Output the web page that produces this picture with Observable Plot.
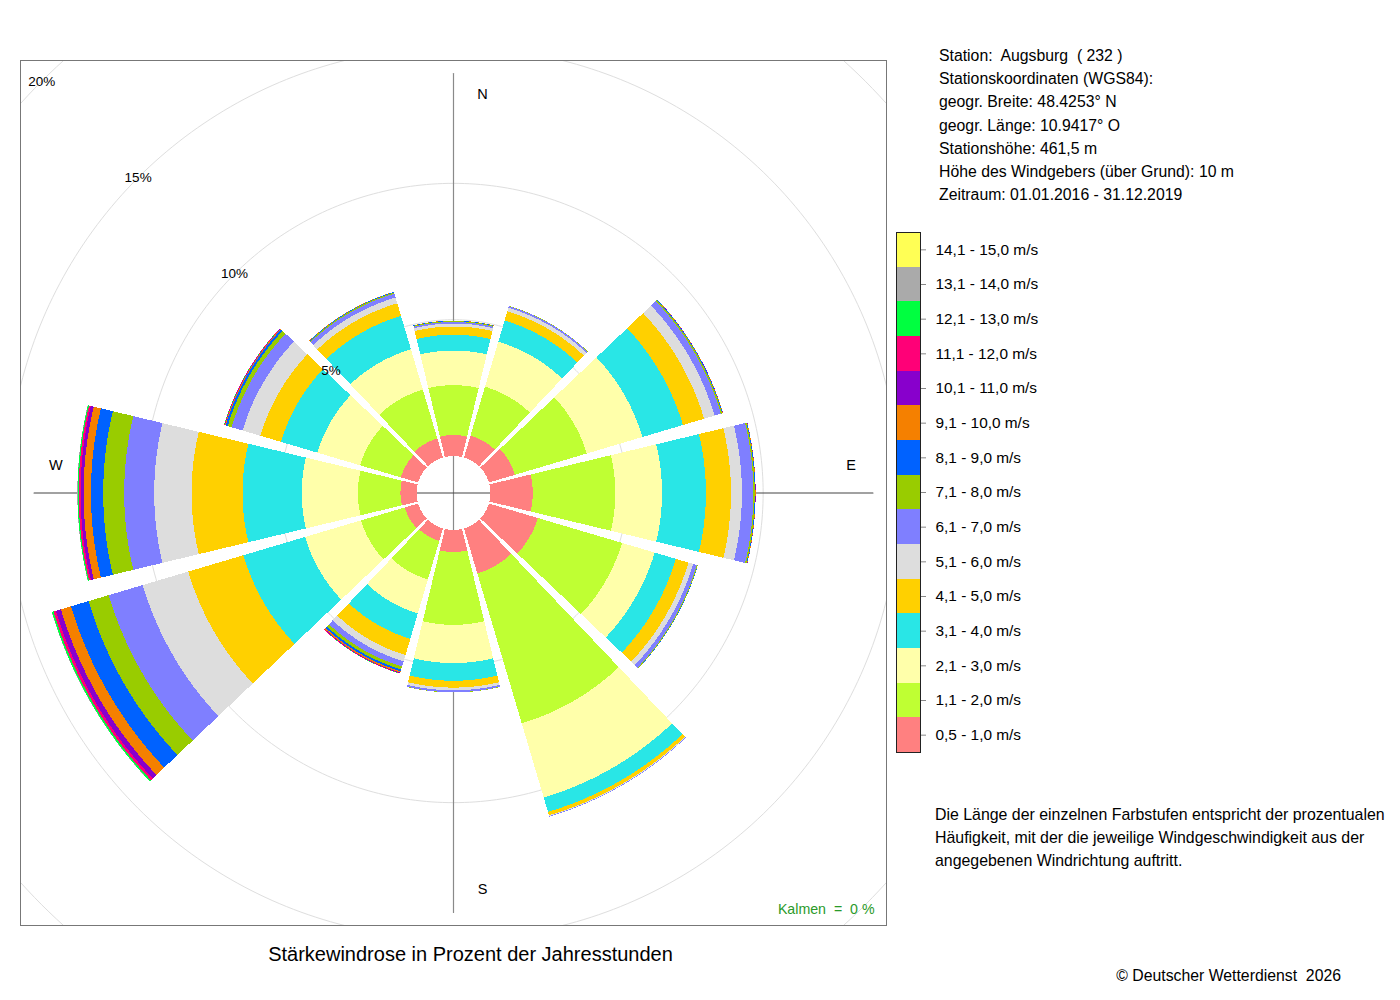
<!DOCTYPE html>
<html>
<head>
<meta charset="utf-8">
<script src="https://cdn.jsdelivr.net/npm/d3@7"></script>
<script src="https://cdn.jsdelivr.net/npm/@observablehq/plot@0.6"></script>
<style>
  html, body { margin: 0; padding: 0; background: #fff; }
  body { font-family: "Liberation Sans", Arial, Helvetica, sans-serif; color: #000; }
  #page { position: relative; width: 1400px; height: 1000px; overflow: hidden; }
  .abs { position: absolute; white-space: pre; }
  svg text { white-space: pre; }
  #legend [aria-label="y-axis tick"] { stroke: #888; }
</style>
</head>
<body>
<div id="page">
  <div id="rose" class="abs" style="left:19px; top:59px;"></div>
  <div id="info" class="abs" style="left:939px; top:44px; font-size:15.8px; line-height:23.2px;"></div>
  <div id="legend" class="abs" style="left:895px; top:231px;"></div>
  <div id="note" class="abs" style="left:935px; top:803px; font-size:15.9px; line-height:23px;"></div>
  <div id="title" class="abs" style="left:0px; top:942px; width:941px; text-align:center; font-size:20px; line-height:24px;"></div>
  <div id="copy" class="abs" style="left:1000px; top:966px; width:341px; text-align:right; font-size:15.8px; line-height:20px;"></div>
</div>
<script>
// ---------------- data ----------------
const directions = [0, 30, 60, 90, 120, 150, 180, 210, 240, 270, 300, 330];
const directionNames = ["N", "NNO", "ONO", "O", "OSO", "SSO", "S", "SSW", "WSW", "W", "WNW", "NNW"];

const speedClasses = [
  "0,5 - 1,0 m/s", "1,1 - 2,0 m/s", "2,1 - 3,0 m/s", "3,1 - 4,0 m/s", "4,1 - 5,0 m/s",
  "5,1 - 6,0 m/s", "6,1 - 7,0 m/s", "7,1 - 8,0 m/s", "8,1 - 9,0 m/s", "9,1 - 10,0 m/s",
  "10,1 - 11,0 m/s", "11,1 - 12,0 m/s", "12,1 - 13,0 m/s", "13,1 - 14,0 m/s", "14,1 - 15,0 m/s"
];
const classColors = [
  "#ff8080", "#bfff33", "#ffffaa", "#29e6e6", "#ffd000",
  "#dddddd", "#7f7fff", "#99cc00", "#0062ff", "#f58000",
  "#8800cc", "#ff0077", "#00ff40", "#aaaaaa", "#ffff55"
];

// percent of yearly hours per speed class (same order as speedClasses)
const freqN   = [0.77, 1.83, 1.27, 0.58, 0.30, 0.11, 0.055, 0.03, 0.015, 0.005, 0, 0, 0, 0, 0];
const freqNNO = [0.84, 1.87, 1.72, 0.81, 0.35, 0.14, 0.06, 0.01, 0, 0, 0, 0, 0, 0, 0];
const freqONO = [0.99, 2.75, 2.13, 1.55, 0.81, 0.40, 0.24, 0.05, 0.02, 0.01, 0.005, 0, 0, 0, 0];
const freqO   = [1.55, 3.03, 1.71, 1.61, 0.92, 0.40, 0.42, 0.05, 0.02, 0.01, 0.005, 0, 0, 0, 0];
const freqOSO = [1.87, 3.22, 1.25, 0.81, 0.48, 0.18, 0.14, 0.03, 0.01, 0, 0, 0, 0, 0, 0];
const freqSSO = [1.72, 5.73, 2.84, 0.55, 0.13, 0.03, 0.02, 0, 0, 0, 0, 0, 0, 0, 0];
const freqS   = [0.81, 2.67, 1.40, 0.65, 0.25, 0.10, 0.07, 0.01, 0, 0, 0, 0, 0, 0, 0];
const freqSSW = [0.48, 1.47, 1.30, 0.97, 0.62, 0.24, 0.20, 0.11, 0.07, 0.05, 0.02, 0.015, 0.007, 0, 0];
const freqWSW = [0.51, 1.67, 2.14, 2.36, 2.11, 1.74, 1.30, 0.77, 0.67, 0.39, 0.19, 0.09, 0.06, 0.01, 0];
const freqW   = [0.59, 1.56, 2.06, 2.17, 1.87, 1.37, 1.10, 0.77, 0.45, 0.27, 0.11, 0.07, 0.04, 0.01, 0];
const freqWNW = [0.66, 1.56, 1.63, 1.39, 0.79, 0.68, 0.42, 0.15, 0.08, 0.03, 0.015, 0.01, 0.007, 0, 0];
const freqNNW = [0.73, 1.87, 1.54, 1.28, 0.48, 0.22, 0.15, 0.04, 0.02, 0.01, 0, 0, 0, 0, 0];

const ringTicks = [5, 10, 15, 20];
const ringLabels = ["5%", "10%", "15%", "20%"];
const compassNS = [{deg: 0, label: "N"}, {deg: 180, label: "S"}];
const compassEW = [{deg: 90, label: "E"}, {deg: 270, label: "W"}];
const calmPercent = 0;

const infoLines = [
  "Station:  Augsburg  ( 232 )",
  "Stationskoordinaten (WGS84):",
  "geogr. Breite: 48.4253° N",
  "geogr. Länge: 10.9417° O",
  "Stationshöhe: 461,5 m",
  "Höhe des Windgebers (über Grund): 10 m",
  "Zeitraum: 01.01.2016 - 31.12.2019"
];
const noteLines = [
  "Die Länge der einzelnen Farbstufen entspricht der prozentualen",
  "Häufigkeit, mit der die jeweilige Windgeschwindigkeit aus der",
  "angegebenen Windrichtung auftritt."
];
const titleText = "Stärkewindrose in Prozent der Jahresstunden";
const copyText = "© Deutscher Wetterdienst  2026";

// ---------------- geometry (derived) ----------------
const FONT = '"Liberation Sans", Arial, Helvetica, sans-serif';
const HOLE = 1.355;        // radius of the calm circle (percent units)
const HALF_WIDTH = 13.5;   // half opening of a sector (degrees)
const BOX = 15.86;         // half side of the frame (percent units)
const AXIS_LEN = 15.38;    // half length of the compass lines
const LABEL_R = 14.58;     // radius of the compass letters

const sectorValues = [freqN, freqNNO, freqONO, freqO, freqOSO, freqSSO, freqS, freqSSW, freqWSW, freqW, freqWNW, freqNNW];
const rad = (d) => d * Math.PI / 180;
const polar = (r, deg) => [r * Math.sin(rad(deg)), r * Math.cos(rad(deg))];

function wedge(r0, r1, a0, a1) {
  const n = Math.ceil((a1 - a0) / 0.25);
  const ring = [];
  for (let i = 0; i <= n; ++i) ring.push(polar(r1, a0 + (a1 - a0) * i / n));
  for (let i = n; i >= 0; --i) ring.push(polar(r0, a0 + (a1 - a0) * i / n));
  ring.push(ring[0]);
  return ring;
}

const bandFeatures = [];
directions.forEach((deg, i) => {
  let r = HOLE;
  sectorValues[i].forEach((v, k) => {
    if (v <= 0) return;
    bandFeatures.push({
      type: "Feature",
      properties: {direction: directionNames[i], cls: speedClasses[k], value: v},
      geometry: {type: "Polygon", coordinates: [wedge(r, r + v, deg - HALF_WIDTH, deg + HALF_WIDTH)]}
    });
    r += v;
  });
});

const ringFeatures = ringTicks.map((p) => ({
  type: "Feature",
  properties: {p},
  geometry: {type: "LineString", coordinates: d3.range(0, 361, 1).map((a) => polar(HOLE + p, a))}
}));

const axisV = {type: "LineString", coordinates: [polar(AXIS_LEN, 0), polar(AXIS_LEN, 180)]};
const axisH = {type: "LineString", coordinates: [polar(AXIS_LEN, 270), polar(AXIS_LEN, 90)]};

const ringLabelData = ringTicks.map((p, i) => ({label: ringLabels[i], xy: polar(HOLE + p, 315)}));

// ---------------- main rose ----------------
const rose = Plot.plot({
  width: 868,
  height: 867,
  margin: 1,
  projection: {
    type: "reflect-y",
    domain: {type: "MultiPoint", coordinates: [[-BOX, -BOX], [BOX, BOX]]}
  },
  color: {domain: speedClasses, range: classColors},
  style: {fontFamily: FONT, background: "white", overflow: "visible"},
  marks: [
    Plot.geo(ringFeatures, {stroke: "#dedede", strokeWidth: 1, fill: "none", clip: "frame"}),
    Plot.geo([axisV], {stroke: "#8a8a8a", strokeWidth: 1.2, fill: "none"}),
    Plot.geo([axisH], {stroke: "#444", strokeWidth: 1.2, fill: "none"}),
    Plot.geo(bandFeatures, {fill: (d) => d.properties.cls, stroke: "none", shapeRendering: "crispEdges"}),
    Plot.text(ringLabelData, {x: (d) => d.xy[0], y: (d) => d.xy[1], text: "label", fontSize: 13.5, fill: "#000"}),
    Plot.text(compassNS, {x: (d) => polar(LABEL_R, d.deg)[0], y: (d) => polar(LABEL_R, d.deg)[1], text: "label", dx: 29, dy: -1, fontSize: 14.5, fill: "#000"}),
    Plot.text(compassEW, {x: (d) => polar(LABEL_R, d.deg)[0], y: (d) => polar(LABEL_R, d.deg)[1], text: "label", dy: -28, fontSize: 14.5, fill: "#000"}),
    Plot.text([`Kalmen  =  ${calmPercent} %`], {frameAnchor: "bottom-right", text: (d) => d, dx: -12, dy: -12, fontSize: 14.2, fill: "#2a9a2a"}),
    Plot.frame({stroke: "#777"})
  ]
});
document.getElementById("rose").append(rose);

// ---------------- legend ----------------
const legend = Plot.plot({
  width: 226,
  height: 522,
  marginTop: 1,
  marginBottom: 1,
  marginLeft: 1,
  marginRight: 201,
  x: {domain: [0, 1], axis: null},
  y: {domain: speedClasses.slice().reverse(), padding: 0, round: false, axis: "right", tickSize: 5, tickPadding: 10, label: null},
  color: {domain: speedClasses, range: classColors},
  style: {fontFamily: FONT, fontSize: "15.4px", overflow: "visible", color: "#000"},
  marks: [
    Plot.barX(speedClasses, {x1: 0, x2: 1, y: (d) => d, fill: (d) => d, shapeRendering: "crispEdges"}),
    Plot.frame({stroke: "#222"})
  ]
});
document.getElementById("legend").append(legend);

// ---------------- texts ----------------
document.getElementById("info").textContent = infoLines.join("\n");
document.getElementById("note").textContent = noteLines.join("\n");
document.getElementById("title").textContent = titleText;
document.getElementById("copy").textContent = copyText;
</script>
</body>
</html>
